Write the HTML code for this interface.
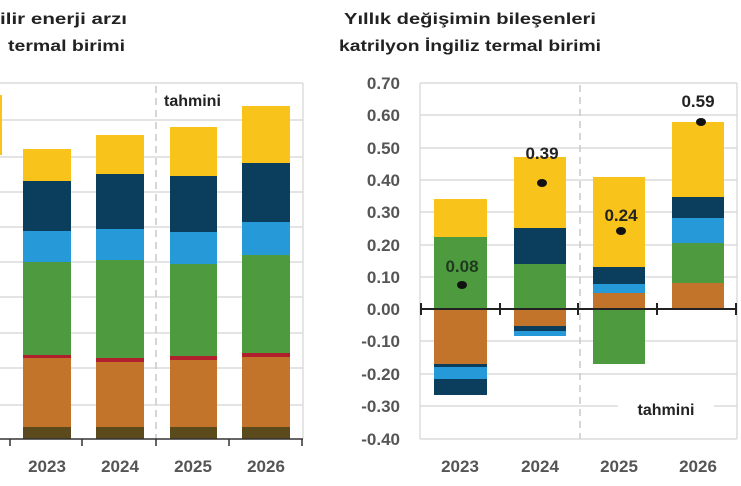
<!DOCTYPE html>
<html><head><meta charset="utf-8"><style>
html,body{margin:0;padding:0;background:#fff;}
svg{display:block;font-family:"Liberation Sans",sans-serif;}
</style></head><body>
<svg width="741" height="486" viewBox="0 0 741 486" xmlns="http://www.w3.org/2000/svg">
<rect width="741" height="486" fill="#fff"/>
<!-- titles -->
<g font-weight="bold" font-size="16" fill="#222">
<text x="0" y="24" textLength="127" lengthAdjust="spacingAndGlyphs">ilir enerji arzı</text>
<text x="8" y="51" textLength="117" lengthAdjust="spacingAndGlyphs">termal birimi</text>
<text x="470" y="24" text-anchor="middle" textLength="252" lengthAdjust="spacingAndGlyphs">Yıllık değişimin bileşenleri</text>
<text x="470" y="51" text-anchor="middle" textLength="262" lengthAdjust="spacingAndGlyphs">katrilyon İngiliz termal birimi</text>
</g>
<!-- LEFT CHART -->
<g stroke="#d4d4d4" stroke-width="1.2">
<line x1="0" y1="83" x2="303" y2="83"/>
<line x1="303" y1="83" x2="303" y2="439"/>
<line x1="0" y1="120" x2="303" y2="120"/>
<line x1="0" y1="157" x2="303" y2="157"/>
<line x1="0" y1="192" x2="303" y2="192"/>
<line x1="0" y1="227" x2="303" y2="227"/>
<line x1="0" y1="262" x2="303" y2="262"/>
<line x1="0" y1="297" x2="303" y2="297"/>
<line x1="0" y1="333" x2="303" y2="333"/>
<line x1="0" y1="368" x2="303" y2="368"/>
<line x1="0" y1="405" x2="303" y2="405"/>
</g>
<line x1="156" y1="86" x2="156" y2="439" stroke="#c8c8c8" stroke-width="1.5" stroke-dasharray="7,5"/>
<rect x="160" y="88" width="80" height="24" fill="#fff"/>
<text x="164" y="106" font-size="16" font-weight="bold" fill="#222">tahmini</text>
<rect x="0" y="95" width="2" height="60" fill="#f8c31a"/>
<!-- bars: yellow, navy, blue, green, red, orange, olive -->
<g>
<rect x="23" y="149" width="48" height="32" fill="#f8c31a"/>
<rect x="23" y="181" width="48" height="50" fill="#0b3d5c"/>
<rect x="23" y="231" width="48" height="31" fill="#269ad8"/>
<rect x="23" y="262" width="48" height="93" fill="#4e9a3e"/>
<rect x="23" y="355" width="48" height="3" fill="#b01f2c"/>
<rect x="23" y="358" width="48" height="69" fill="#c1742a"/>
<rect x="23" y="427" width="48" height="12" fill="#5a4a1c"/>

<rect x="96" y="135" width="48" height="39" fill="#f8c31a"/>
<rect x="96" y="174" width="48" height="55" fill="#0b3d5c"/>
<rect x="96" y="229" width="48" height="31" fill="#269ad8"/>
<rect x="96" y="260" width="48" height="98" fill="#4e9a3e"/>
<rect x="96" y="358" width="48" height="4" fill="#b01f2c"/>
<rect x="96" y="362" width="48" height="65" fill="#c1742a"/>
<rect x="96" y="427" width="48" height="12" fill="#5a4a1c"/>

<rect x="170" y="127" width="47" height="49" fill="#f8c31a"/>
<rect x="170" y="176" width="47" height="56" fill="#0b3d5c"/>
<rect x="170" y="232" width="47" height="32" fill="#269ad8"/>
<rect x="170" y="264" width="47" height="92" fill="#4e9a3e"/>
<rect x="170" y="356" width="47" height="4" fill="#b01f2c"/>
<rect x="170" y="360" width="47" height="67" fill="#c1742a"/>
<rect x="170" y="427" width="47" height="12" fill="#5a4a1c"/>

<rect x="242" y="106" width="48" height="57" fill="#f8c31a"/>
<rect x="242" y="163" width="48" height="59" fill="#0b3d5c"/>
<rect x="242" y="222" width="48" height="33" fill="#269ad8"/>
<rect x="242" y="255" width="48" height="98" fill="#4e9a3e"/>
<rect x="242" y="353" width="48" height="4" fill="#b01f2c"/>
<rect x="242" y="357" width="48" height="70" fill="#c1742a"/>
<rect x="242" y="427" width="48" height="12" fill="#5a4a1c"/>
</g>
<g stroke="#333" stroke-width="1.5">
<line x1="0" y1="439" x2="303" y2="439"/>
<line x1="10" y1="439" x2="10" y2="446"/>
<line x1="82" y1="439" x2="82" y2="446"/>
<line x1="156" y1="439" x2="156" y2="446"/>
<line x1="229" y1="439" x2="229" y2="446"/>
<line x1="302" y1="439" x2="302" y2="446"/>
</g>
<g font-size="17" font-weight="bold" fill="#555" text-anchor="middle">
<text x="47" y="472">2023</text>
<text x="120" y="472">2024</text>
<text x="193" y="472">2025</text>
<text x="266" y="472">2026</text>
</g>

<!-- RIGHT CHART -->
<g stroke="#d4d4d4" stroke-width="1.2">
<line x1="420" y1="83" x2="737" y2="83"/>
<line x1="420" y1="115" x2="737" y2="115"/>
<line x1="420" y1="148" x2="737" y2="148"/>
<line x1="420" y1="180" x2="737" y2="180"/>
<line x1="420" y1="212" x2="737" y2="212"/>
<line x1="420" y1="245" x2="737" y2="245"/>
<line x1="420" y1="277" x2="737" y2="277"/>
<line x1="420" y1="341" x2="737" y2="341"/>
<line x1="420" y1="374" x2="737" y2="374"/>
<line x1="420" y1="406" x2="737" y2="406"/>
<line x1="420" y1="439" x2="737" y2="439"/>
<line x1="420" y1="83" x2="420" y2="439"/>
<line x1="737" y1="83" x2="737" y2="439"/>
</g>
<line x1="580" y1="85" x2="580" y2="439" stroke="#c8c8c8" stroke-width="1.5" stroke-dasharray="7,5"/>
<g font-size="17" font-weight="bold" fill="#555" text-anchor="end">
<text x="400" y="89">0.70</text>
<text x="400" y="121">0.60</text>
<text x="400" y="154">0.50</text>
<text x="400" y="186">0.40</text>
<text x="400" y="218">0.30</text>
<text x="400" y="251">0.20</text>
<text x="400" y="283">0.10</text>
<text x="400" y="315">0.00</text>
<text x="400" y="347">-0.10</text>
<text x="400" y="380">-0.20</text>
<text x="400" y="412">-0.30</text>
<text x="400" y="445">-0.40</text>
</g>
<!-- 2023 -->
<rect x="434" y="199" width="53" height="38" fill="#f8c31a"/>
<rect x="434" y="237" width="53" height="72" fill="#4e9a3e"/>
<rect x="434" y="309" width="53" height="55" fill="#c1742a"/>
<rect x="434" y="364" width="53" height="3" fill="#0b3d5c"/>
<rect x="434" y="367" width="53" height="12" fill="#269ad8"/>
<rect x="434" y="379" width="53" height="16" fill="#0b3d5c"/>
<!-- 2024 -->
<rect x="514" y="157" width="52" height="71" fill="#f8c31a"/>
<rect x="514" y="228" width="52" height="36" fill="#0b3d5c"/>
<rect x="514" y="264" width="52" height="45" fill="#4e9a3e"/>
<rect x="514" y="309" width="52" height="17" fill="#c1742a"/>
<rect x="514" y="326" width="52" height="5" fill="#0b3d5c"/>
<rect x="514" y="331" width="52" height="5" fill="#269ad8"/>
<!-- 2025 -->
<rect x="593" y="177" width="52" height="90" fill="#f8c31a"/>
<rect x="593" y="267" width="52" height="17" fill="#0b3d5c"/>
<rect x="593" y="284" width="52" height="9" fill="#269ad8"/>
<rect x="593" y="293" width="52" height="16" fill="#c1742a"/>
<rect x="593" y="309" width="52" height="55" fill="#4e9a3e"/>
<!-- 2026 -->
<rect x="672" y="122" width="52" height="75" fill="#f8c31a"/>
<rect x="672" y="197" width="52" height="21" fill="#0b3d5c"/>
<rect x="672" y="218" width="52" height="25" fill="#269ad8"/>
<rect x="672" y="243" width="52" height="40" fill="#4e9a3e"/>
<rect x="672" y="283" width="52" height="26" fill="#c1742a"/>
<!-- zero axis -->
<g stroke="#222" stroke-width="2">
<line x1="420" y1="309" x2="737" y2="309"/>
<line x1="421" y1="303" x2="421" y2="315"/>
<line x1="500" y1="303" x2="500" y2="315"/>
<line x1="578" y1="303" x2="578" y2="315"/>
<line x1="657" y1="303" x2="657" y2="315"/>
<line x1="736" y1="303" x2="736" y2="315"/>
</g>
<!-- dots -->
<g fill="#111">
<ellipse cx="462" cy="285" rx="5" ry="4"/>
<ellipse cx="542" cy="183" rx="5" ry="4"/>
<ellipse cx="621" cy="231" rx="5" ry="4"/>
<ellipse cx="701" cy="122" rx="5" ry="4"/>
</g>
<g font-size="17" font-weight="bold" fill="#222" text-anchor="middle">
<text x="462" y="272" fill="#1e3a1e">0.08</text>
<text x="542" y="159">0.39</text>
<text x="621" y="221">0.24</text>
<text x="698" y="107">0.59</text>
</g>
<rect x="618" y="398" width="96" height="22" fill="#fff"/>
<text x="666" y="415" font-size="16" font-weight="bold" fill="#222" text-anchor="middle">tahmini</text>
<g font-size="17" font-weight="bold" fill="#555" text-anchor="middle">
<text x="460" y="472">2023</text>
<text x="540" y="472">2024</text>
<text x="619" y="472">2025</text>
<text x="698" y="472">2026</text>
</g>
</svg>
</body></html>
